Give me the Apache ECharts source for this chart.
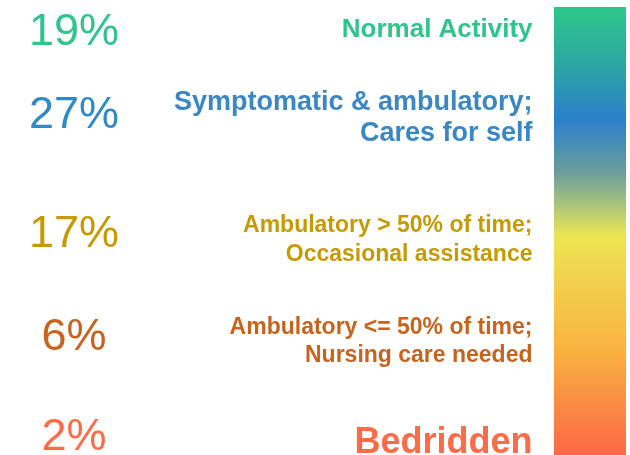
<!DOCTYPE html>
<html>
<head>
<meta charset="utf-8">
<script src="https://cdn.jsdelivr.net/npm/echarts@6/dist/echarts.min.js"></script>
<style>
  html, body { margin: 0; padding: 0; background: #fff; }
  #chart { width: 630px; height: 455px; }
</style>
</head>
<body>
<div id="chart"></div>
<script>
// performance status groups, top (best) to bottom (worst)
const categories = [
  'Normal Activity',
  'Symptomatic & ambulatory;\nCares for self',
  'Ambulatory > 50% of time;\nOccasional assistance',
  'Ambulatory <= 50% of time;\nNursing care needed',
  'Bedridden'
];
const shares = [19, 27, 17, 6, 2];

// styling per row
const pctColors = ['#2fc48a', '#2f8ac6', '#c59a05', '#c8631d', '#ff6b46'];
const descColors = ['#2fc48a', '#3a87c6', '#c59a05', '#c8631d', '#ff6b46'];
const descSizes = [26, 27, 23, 23, 36];
const descLineHeights = [30, 31, 29, 28, 40];
const pctNudge = [0, -19, -1, 1, 0];
const descNudge = [-3, -16, 5, 5, 5];

const chart = echarts.init(document.getElementById('chart'));

const font = '"Liberation Sans", Arial, sans-serif';

const option = {
  backgroundColor: '#fff',
  animation: false,
  grid: { left: 74, right: 97, top: 33, bottom: 17 },
  xAxis: { type: 'value', min: 0, max: 1, show: false },
  yAxis: {
    type: 'category',
    data: categories,
    inverse: true,
    boundaryGap: false,
    show: false
  },
  graphic: [{
    type: 'rect',
    shape: { x: 554, y: 7, width: 72, height: 448 },
    style: {
      fill: new echarts.graphic.LinearGradient(0, 0, 0, 1, [
        { offset: 0, color: '#2ec78a' },
        { offset: 0.13, color: '#2ba6a3' },
        { offset: 0.25, color: '#2b7fcb' },
        { offset: 0.37, color: '#6c9e9b' },
        { offset: 0.45, color: '#b2c977' },
        { offset: 0.51, color: '#ede553' },
        { offset: 0.65, color: '#f3c94a' },
        { offset: 0.77, color: '#f9b240' },
        { offset: 0.88, color: '#fb8d44' },
        { offset: 1, color: '#fe6846' }
      ])
    },
    silent: true
  }],
  series: [
    {
      // percentage column
      type: 'scatter',
      symbolSize: 1,
      itemStyle: { color: 'transparent', opacity: 1 },
      data: shares.map((v, i) => ({
        value: [0, i],
        label: {
          color: pctColors[i],
          offset: [0, pctNudge[i]]
        }
      })),
      label: {
        show: true,
        position: 'inside',
        align: 'center',
        verticalAlign: 'middle',
        fontFamily: font,
        fontSize: 45,
        formatter: p => shares[p.dataIndex] + '%'
      }
    },
    {
      // description column, right aligned
      type: 'scatter',
      symbolSize: 1,
      itemStyle: { color: 'transparent', opacity: 1 },
      data: categories.map((c, i) => ({
        value: [1, i],
        label: {
          color: descColors[i],
          fontSize: descSizes[i],
          lineHeight: descLineHeights[i],
          offset: [0, descNudge[i]]
        }
      })),
      label: {
        show: true,
        position: 'left',
        distance: 0,
        fontFamily: font,
        fontWeight: 'bold',
        formatter: p => categories[p.dataIndex]
      }
    }
  ]
};

chart.setOption(option);
</script>
</body>
</html>
